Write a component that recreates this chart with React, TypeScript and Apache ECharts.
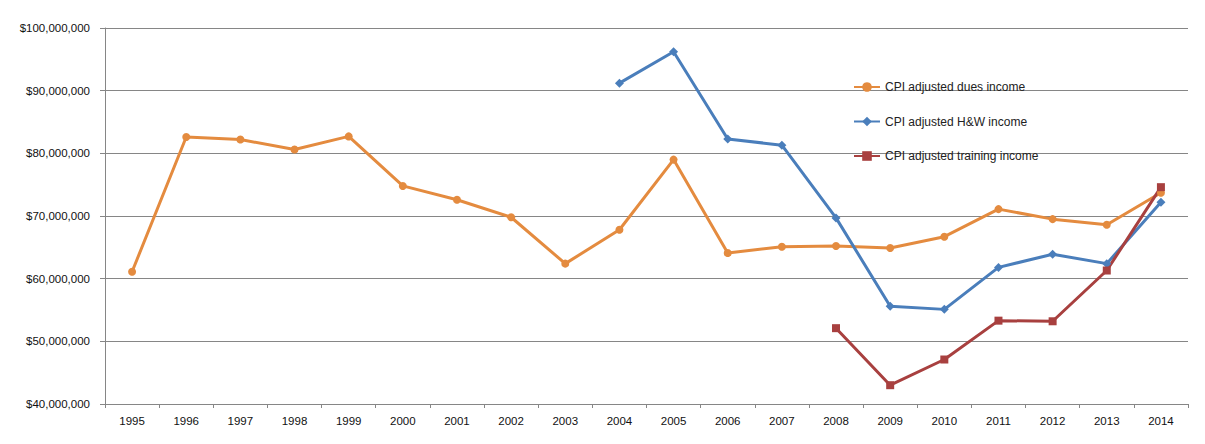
import React, { useEffect, useRef } from "react";
import * as echarts from "echarts";

const years = ["1995","1996","1997","1998","1999","2000","2001","2002","2003","2004","2005","2006","2007","2008","2009","2010","2011","2012","2013","2014"];
const duesIncome = [61.1, 82.6, 82.2, 80.6, 82.7, 74.8, 72.6, 69.8, 62.4, 67.8, 79.0, 64.1, 65.1, 65.2, 64.9, 66.7, 71.1, 69.5, 68.6, 73.7];
const hwIncome = [null, null, null, null, null, null, null, null, null, 91.2, 96.2, 82.3, 81.3, 69.7, 55.6, 55.1, 61.8, 63.9, 62.4, 72.2];
const trainingIncome = [null, null, null, null, null, null, null, null, null, null, null, null, null, 52.1, 43.0, 47.1, 53.3, 53.2, 61.3, 74.6];
const scale = 1000000;

const toVals = (arr: (number | null)[]) => arr.map((v) => (v == null ? null : Math.round(v * scale)));

const fmt = (v: number) => "$" + Math.round(v).toString().replace(/\B(?=(\d{3})+(?!\d))/g, ",");

export default function App() {
  const ref = useRef<HTMLDivElement>(null);
  useEffect(() => {
    document.body.style.margin = "0";
    const chart = echarts.init(ref.current!, null, { renderer: "svg" });
    const font = "Liberation Sans";
    chart.setOption({
      animation: false,
      backgroundColor: "#ffffff",
      textStyle: { fontFamily: font },
      grid: { left: 105, right: 17, top: 28, bottom: 40 },
      legend: {
        orient: "vertical",
        left: 848,
        top: 76,
        itemGap: 22.5,
        itemWidth: 26,
        itemHeight: 12,
        textStyle: { fontFamily: font, fontSize: 12, color: "#222" },
        data: ["CPI adjusted dues income", "CPI adjusted H&W income", "CPI adjusted training income"],
      },
      xAxis: {
        type: "category",
        data: years,
        boundaryGap: true,
        axisLine: { lineStyle: { color: "#868686", width: 1 } },
        axisTick: { show: true, length: 4, lineStyle: { color: "#868686" } },
        axisLabel: { color: "#111", fontSize: 11.5, margin: 11, fontFamily: font },
      },
      yAxis: {
        type: "value",
        min: 40000000,
        max: 100000000,
        interval: 10000000,
        axisLine: { show: true, lineStyle: { color: "#868686", width: 1 } },
        axisTick: { show: true, length: 5, lineStyle: { color: "#868686" } },
        axisLabel: { color: "#111", fontSize: 11.5, margin: 15, fontFamily: font, formatter: fmt },
        splitLine: { lineStyle: { color: "#868686", width: 1 } },
      },
      series: [
        {
          name: "CPI adjusted dues income",
          type: "line",
          data: toVals(duesIncome),
          color: "#E48B3F",
          symbol: "circle",
          symbolSize: 8,
          lineStyle: { width: 3 },
          itemStyle: { color: "#E48B3F" },
        },
        {
          name: "CPI adjusted H&W income",
          type: "line",
          data: toVals(hwIncome),
          color: "#4A7EBB",
          symbol: "diamond",
          symbolSize: 9,
          lineStyle: { width: 3 },
          itemStyle: { color: "#4A7EBB" },
        },
        {
          name: "CPI adjusted training income",
          type: "line",
          data: toVals(trainingIncome),
          color: "#A8403F",
          symbol: "rect",
          symbolSize: 8,
          lineStyle: { width: 3 },
          itemStyle: { color: "#A8403F" },
        },
      ],
    });
    return () => chart.dispose();
  }, []);
  return <div ref={ref} style={{ width: 1205, height: 444 }} />;
}
